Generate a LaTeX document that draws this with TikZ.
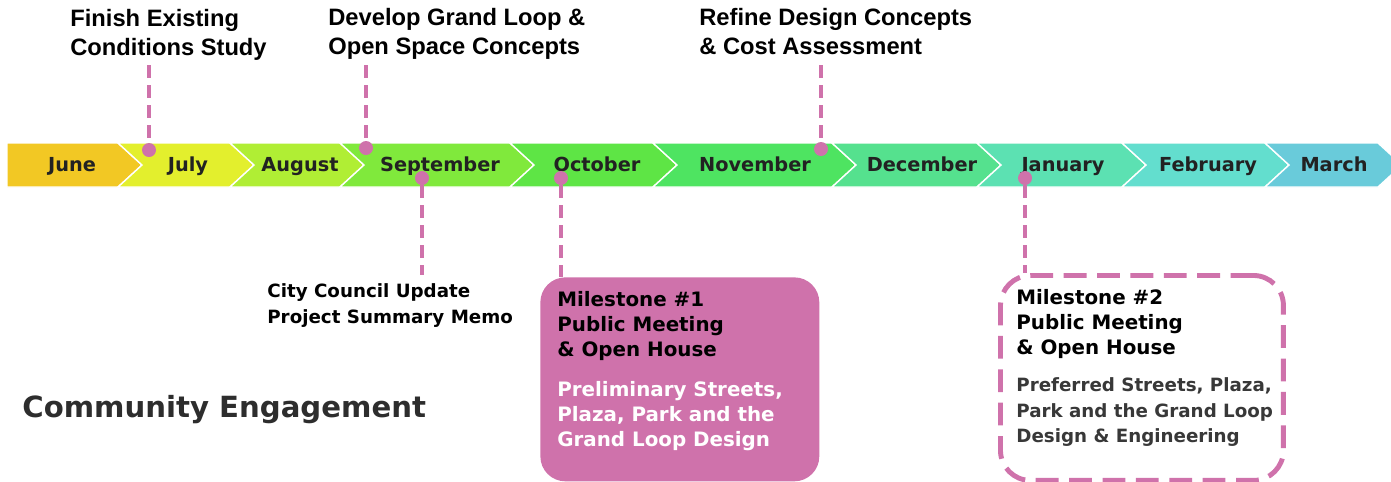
\documentclass[tikz,border=0pt]{standalone}
\usepackage{fontspec}
\setmainfont{DejaVu Sans}
\newfontfamily\labelfont{Liberation Sans}
\usetikzlibrary{positioning}
\definecolor{pinkc}{HTML}{CF72AB}
\definecolor{txtc}{HTML}{222222}
\definecolor{cJun}{HTML}{F2C824}
\definecolor{cJul}{HTML}{E3EF2D}
\definecolor{cAug}{HTML}{B0EE34}
\definecolor{cSep}{HTML}{80E93C}
\definecolor{cOct}{HTML}{5EE545}
\definecolor{cNov}{HTML}{4EE461}
\definecolor{cDec}{HTML}{55E18E}
\definecolor{cJan}{HTML}{5CE1B2}
\definecolor{cFeb}{HTML}{63DECE}
\definecolor{cMar}{HTML}{69CBDA}
\tikzset{
  month/.style={font=\bfseries\fontsize{11}{13}\selectfont, text=txtc, anchor=base, inner sep=0},
  task/.style={font=\labelfont\bfseries\fontsize{13.5}{16.4}\selectfont, align=left, inner sep=0, anchor=north west},
  memo/.style={font=\bfseries\fontsize{10.4}{14.7}\selectfont, align=left, inner sep=0, anchor=north west},
  boxhead/.style={font=\bfseries\fontsize{11.3}{14.2}\selectfont, align=left, inner sep=0, anchor=north west},
  boxbody/.style={boxhead, font=\bfseries\fontsize{10.4}{14.7}\selectfont},
  pin/.style={circle, fill=pinkc, inner sep=0, minimum size=0.28cm},
  stem/.style={draw=pinkc, line width=2.8pt, dash pattern=on 7.4pt off 4pt},
}

\begin{document}
\begin{tikzpicture}[x=0.02cm, y=-0.02cm]
    \useasboundingbox (0,0) rectangle (1391,481);
    % timeline
    \foreach \a/\b/\c/\d/\t/\m/\n in {7/118/cJun/0/72/June/jun, 118/230/cJul/24/188/July/jul,
        230/340/cAug/24/300/August/aug, 340/510/cSep/24/440/September/sep,
        510/653/cOct/24/597/October/oct, 653/832/cNov/24/755/November/nov,
        832/977/cDec/24/922/December/dec, 977/1122/cJan/24/1063/January/jan,
        1122/1265/cFeb/24/1208/February/feb, 1265/1378/cMar/24/1334/March/mar}{
        \fill[\c, draw=white, line width=0.8pt] (\a,143) -- (\b,143) -- (\b+24,165) -- (\b,187)
            -- (\a,187) -- (\a+\d,165) -- cycle;
        \node[month] (\n) at (\t,171) {\m};
    }
    % tasks above
    \node[task] (t1) at (70,9) {Finish Existing\\Conditions Study};
    \node[task] (t2) at (328,8) {Develop Grand Loop \&\\Open Space Concepts};
    \node[task] (t3) at (699,8) {Refine Design Concepts\\\& Cost Assessment};
    \coordinate (s1) at (149,65);
    \coordinate (s2) at (366,65);
    \coordinate (s3) at (821,65);
    \node[pin] (p1) at (149,150) {};
    \node[pin] (p2) at (366,148) {};
    \node[pin] (p3) at (821,149) {};
    \draw[stem] (s1) -- (p1);
    \draw[stem] (s2) -- (p2);
    \draw[stem] (s3) -- (p3);
    % below
    \node[pin] (p4) at (422,178) {};
    \node[pin] (p5) at (561,178) {};
    \node[pin] (p6) at (1025,178) {};
    \node[memo] (memo) at (267,283) {City Council Update\\Project Summary Memo};
    \coordinate (s4) at (422,275);
    \draw[stem] (p4) -- (s4);
    \node[fill=pinkc, rounded corners=0.5cm, minimum width=5.58cm, minimum height=4.08cm,
        anchor=north west] (m1) at (540,277) {};
    \node[draw=pinkc, line width=2.8pt, dash pattern=on 13pt off 6pt, rounded corners=0.6cm,
        minimum width=5.66cm, minimum height=4.1cm, anchor=north west] (m2) at (998,273) {};
    \draw[stem] (p5) -- (p5 |- m1.north);
    \draw[stem] (p6) -- (p6 |- m2.north);
    \node[boxhead, text=black] (h1) at (557,291) {Milestone \#1\\Public Meeting\\\& Open House};
    \node[boxhead, text=white] (b1) at (557,381) {Preliminary Streets,\\Plaza, Park and the\\Grand Loop Design};
    \node[boxhead, text=black] (h2) at (1016,289) {Milestone \#2\\Public Meeting\\\& Open House};
    \node[boxbody, text=txtc!90!white] (b2) at (1016,377) {Preferred Streets, Plaza,\\Park and the Grand Loop\\Design \& Engineering};
    \node[font=\bfseries\fontsize{16.6}{19}\selectfont, text=txtc!95!white, anchor=base west, inner sep=0]
        (ce) at (22,417) {Community Engagement};
\end{tikzpicture}
\end{document}
